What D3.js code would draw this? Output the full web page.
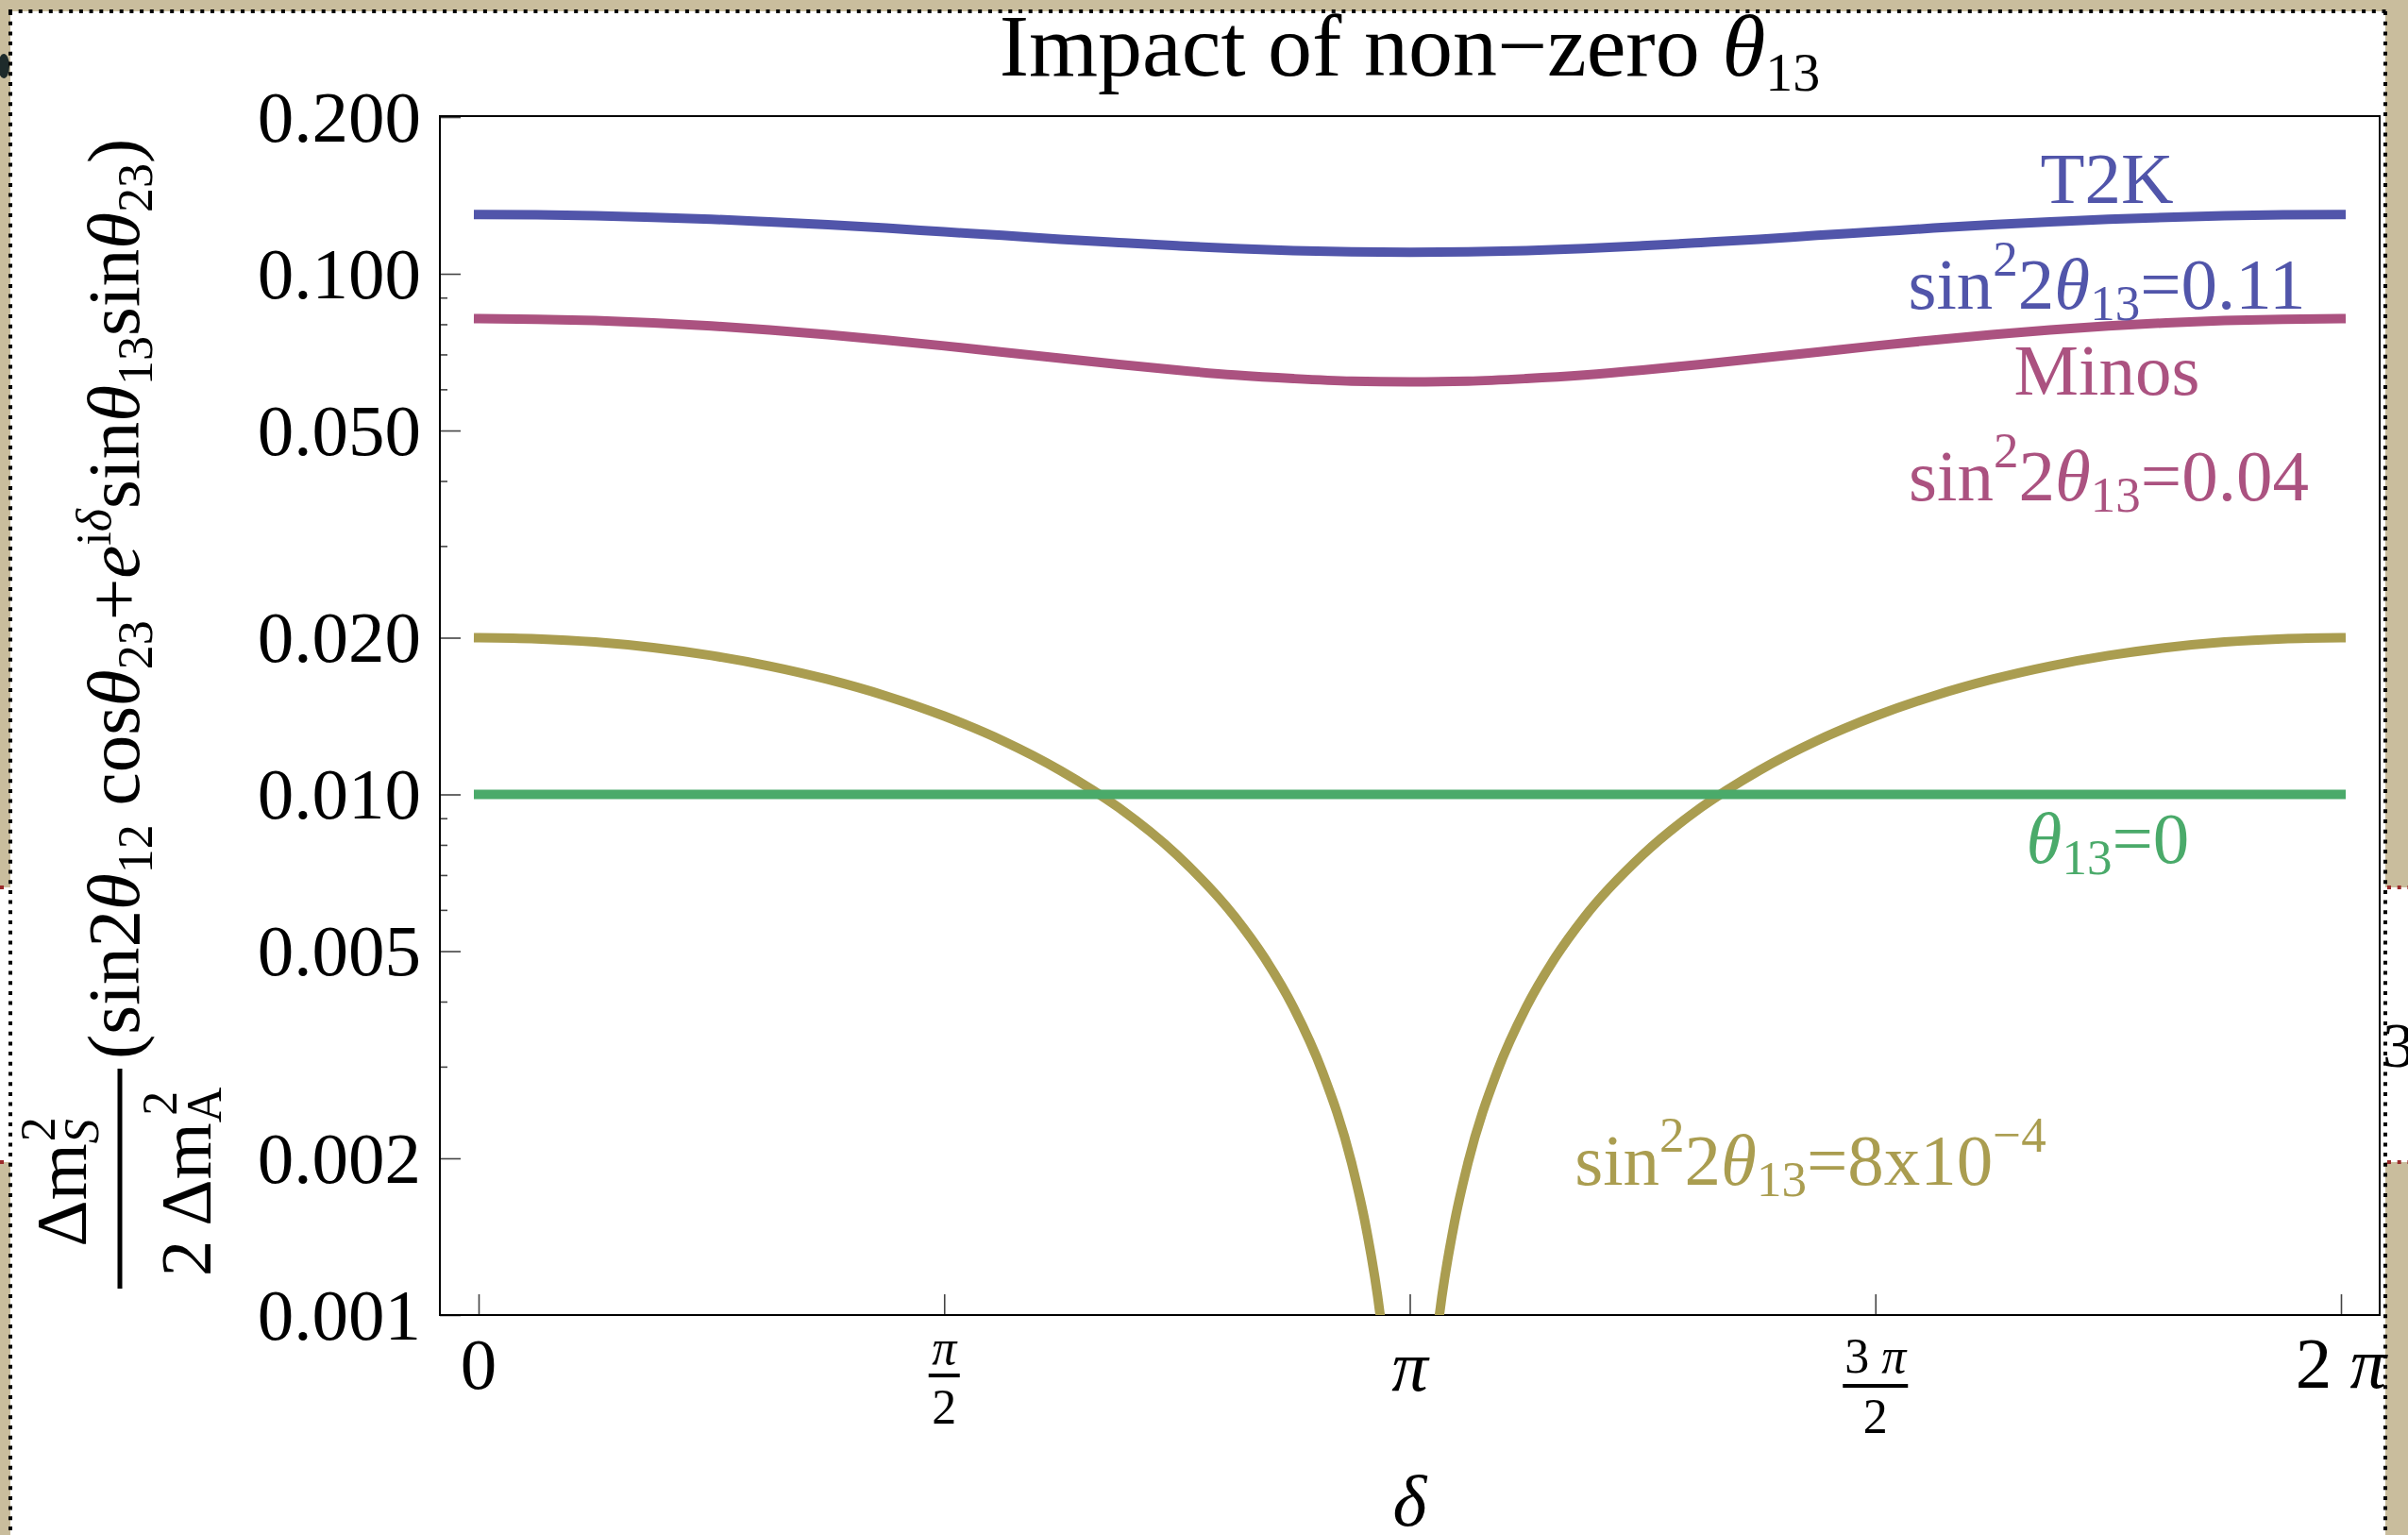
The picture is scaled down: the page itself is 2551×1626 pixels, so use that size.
<!DOCTYPE html>
<html>
<head>
<meta charset="utf-8">
<script src="https://cdn.jsdelivr.net/npm/d3@7"></script>
<style>
  body { margin: 0; background: #fff; }
  svg { display: block; font-family: "Liberation Serif", "Times New Roman", serif; }
  text { white-space: pre; }
</style>
</head>
<body>
<div id="chart"></div>
<script>
// delta in units of pi
const deltaPi = [0, 0.0625, 0.125, 0.1875, 0.25, 0.3125, 0.375, 0.4375, 0.5, 0.5625, 0.625, 0.6875, 0.75,
  0.8125, 0.875, 0.9375, 1, 1.0625, 1.125, 1.1875, 1.25, 1.3125, 1.375, 1.4375, 1.5, 1.5625, 1.625,
  1.6875, 1.75, 1.8125, 1.875, 1.9375, 2]

// T2K, sin^2 2theta13 = 0.11
const t2k = [0.1300, 0.1298, 0.1293, 0.1284, 0.1273, 0.1258, 0.1242, 0.1224, 0.1204, 0.1185, 0.1165,
  0.1148, 0.1132, 0.1118, 0.1108, 0.1102, 0.1100, 0.1102, 0.1108, 0.1118, 0.1132, 0.1148, 0.1165,
  0.1185, 0.1204, 0.1224, 0.1242, 0.1258, 0.1273, 0.1284, 0.1293, 0.1298, 0.1300]

// Minos, sin^2 2theta13 = 0.04
const minos = [0.0820, 0.0818, 0.0813, 0.0805, 0.0794, 0.0780, 0.0764, 0.0746, 0.0727, 0.0707, 0.0688,
  0.0670, 0.0653, 0.0639, 0.0629, 0.0622, 0.0620, 0.0622, 0.0629, 0.0639, 0.0653, 0.0670, 0.0688,
  0.0707, 0.0727, 0.0746, 0.0764, 0.0780, 0.0794, 0.0805, 0.0813, 0.0818, 0.0820]

// theta13 = 0
const zeroDelta = [0, 2]
const zeroTheta = [0.01, 0.01]

// sin^2 2theta13 = 8x10^-4 (dips out of the plot at delta = pi)
const smallDelta = [0, 0.0625, 0.125, 0.1875, 0.25, 0.3125, 0.375, 0.4375, 0.5, 0.5625, 0.625, 0.6875,
  0.75, 0.8125, 0.84375, 0.875, 0.90625, 0.9375, 0.953125, 0.96875, 0.984375, 1, 1.015625, 1.03125,
  1.046875, 1.0625, 1.09375, 1.125, 1.15625, 1.1875, 1.25, 1.3125, 1.375, 1.4375, 1.5, 1.5625, 1.625,
  1.6875, 1.75, 1.8125, 1.875, 1.9375, 2]
const smallTheta = [0.0200, 0.0199, 0.01962, 0.01914, 0.01848, 0.01764, 0.01663, 0.01546, 0.01414,
  0.01269, 0.01111, 0.00943, 0.00765, 0.00581, 0.00486, 0.00390, 0.00293, 0.00196, 0.00147, 0.00098,
  0.00049, null, 0.00049, 0.00098, 0.00147, 0.00196, 0.00293, 0.00390, 0.00486, 0.00581, 0.00765,
  0.00943, 0.01111, 0.01269, 0.01414, 0.01546, 0.01663, 0.01764, 0.01848, 0.01914, 0.01962, 0.0199, 0.0200]

const xTicks = [0, 0.5, 1, 1.5, 2]
const yMajor = [0.001, 0.002, 0.005, 0.01, 0.02, 0.05, 0.1, 0.2]
const yMinor = [0.003, 0.004, 0.006, 0.007, 0.008, 0.009, 0.03, 0.04, 0.06, 0.07, 0.08, 0.09]

const blue = "#5155aa"
const magenta = "#ab5280"
const green = "#4aaa6a"
const gold = "#aa9d50"

const width = 2551
const height = 1626
const frame = { left: 466, right: 2521, top: 123, bottom: 1393 }

const svg = d3.select("#chart").append("svg")
  .attr("width", width)
  .attr("height", height)

// slide background
svg.append("rect").attr("width", width).attr("height", height).attr("fill", "#c9bd9d")
svg.append("ellipse").attr("cx", 4).attr("cy", 70).attr("rx", 6).attr("ry", 13).attr("fill", "#1e2b2b")
svg.append("rect").attr("x", 11).attr("y", 12).attr("width", 2516).attr("height", height).attr("fill", "#fff")
svg.append("rect").attr("x", 0).attr("y", 940).attr("width", 11).attr("height", 291).attr("fill", "#fff")
svg.append("rect").attr("x", 2527).attr("y", 940).attr("width", 24).attr("height", 291).attr("fill", "#fff")
svg.append("text").attr("x", 2524).attr("y", 1130).attr("font-size", 68).text("3")

const dots = [
  [9, 12, 2529, 12, "#000"], [11, 12, 11, height, "#000"], [2527, 12, 2527, height, "#000"],
  [0, 940, 10, 940, "#9b2a2a"], [0, 1231, 10, 1231, "#9b2a2a"],
  [2529, 940, 2551, 940, "#9b2a2a"], [2529, 1231, 2551, 1231, "#9b2a2a"]
]
dots.forEach(d => {
  svg.append("line").attr("x1", d[0]).attr("y1", d[1]).attr("x2", d[2]).attr("y2", d[3])
    .attr("stroke", d[4]).attr("stroke-width", 4).attr("stroke-dasharray", "4 6.7")
})

const x = d3.scaleLinear().domain([0, 2]).range([507, 2480])
const y = d3.scaleLog().domain([0.001, 0.2]).range([frame.bottom, frame.top + 1])

// rich text with italics, sub- and superscripts
function richText(sel, px, py, size, parts, anchor, color) {
  const t = sel.append("text")
    .attr("x", px).attr("y", py)
    .attr("font-size", size)
    .attr("text-anchor", anchor || "start")
    .attr("fill", color || "#000")
  let shift = 0
  parts.forEach(p => {
    const s = p.shift || 0
    const ts = t.append("tspan").attr("dy", s - shift).text(p.t)
    if (p.it) ts.attr("font-style", "italic")
    if (p.size) ts.attr("font-size", p.size)
    if (p.dx) ts.attr("dx", p.dx)
    shift = s
  })
  return t
}

// plot frame
svg.append("clipPath").attr("id", "plotClip").append("rect")
  .attr("x", frame.left).attr("y", frame.top)
  .attr("width", frame.right - frame.left).attr("height", frame.bottom - frame.top)

// axes (ticks point inward)
const yAxis = svg.append("g")
  .attr("transform", `translate(${frame.left},0)`)
  .call(d3.axisLeft(y).tickValues(yMajor).tickSize(-22).tickPadding(20).tickFormat(d3.format(".3f")))
yAxis.select(".domain").remove()
yAxis.selectAll("line").attr("stroke", "#444").attr("stroke-width", 1.6)
yAxis.selectAll("text").attr("font-size", 77).attr("font-family", "Liberation Serif").attr("fill", "#000")
  .attr("dy", "0.33em")

const yMinorAxis = svg.append("g")
  .attr("transform", `translate(${frame.left},0)`)
  .call(d3.axisLeft(y).tickValues(yMinor).tickSize(-8).tickFormat(""))
yMinorAxis.select(".domain").remove()
yMinorAxis.selectAll("line").attr("stroke", "#444").attr("stroke-width", 1.6)

const xAxis = svg.append("g")
  .attr("transform", `translate(0,${frame.bottom})`)
  .call(d3.axisBottom(x).tickValues(xTicks).tickSize(-22).tickFormat(""))
xAxis.select(".domain").remove()
xAxis.selectAll("line").attr("stroke", "#444").attr("stroke-width", 1.6)

svg.append("rect")
  .attr("x", frame.left).attr("y", frame.top)
  .attr("width", frame.right - frame.left).attr("height", frame.bottom - frame.top)
  .attr("fill", "none").attr("stroke", "#000").attr("stroke-width", 2)

// x tick labels: 0, pi/2, pi, 3pi/2, 2pi
const xb = frame.bottom
richText(svg, x(0), xb + 78, 77, [{ t: "0" }], "middle")
richText(svg, x(1), xb + 80, 77, [{ t: "π", it: true }], "middle")
richText(svg, x(2), xb + 77, 77, [{ t: "2 " }, { t: "π", it: true }], "middle")

function fracLabel(v, num, numBase, barY, denBase, barW) {
  richText(svg, x(v), xb + numBase, 52, num, "middle")
  svg.append("line")
    .attr("x1", x(v) - barW / 2).attr("x2", x(v) + barW / 2)
    .attr("y1", xb + barY).attr("y2", xb + barY)
    .attr("stroke", "#000").attr("stroke-width", 4)
  richText(svg, x(v), xb + denBase, 52, [{ t: "2" }], "middle")
}
fracLabel(0.5, [{ t: "π", it: true }], 52, 64, 115, 33)
fracLabel(1.5, [{ t: "3 " }, { t: "π", it: true }], 61, 75, 125, 69)

// axis title
richText(svg, x(1), 1616, 77, [{ t: "δ", it: true }], "middle")

// chart title
richText(svg, (frame.left + frame.right) / 2, 80, 94, [
  { t: "Impact of non−zero " }, { t: "θ", it: true }, { t: "13", size: 58, shift: 16 }
], "middle")

// y axis label, rotated
const yl = svg.append("g").attr("transform", "rotate(-90)")
richText(yl, -1252, 91, 77, [
  { t: "Δm" }, { t: "S", it: true, size: 52, shift: 13 }, { t: "2", size: 52, shift: -33, dx: -24 }
], "middle")
richText(yl, -1252, 223, 77, [
  { t: "2 Δm" }, { t: "A", size: 52, shift: 11 }, { t: "2", size: 52, shift: -36, dx: -30 }
], "middle")
svg.append("line").attr("x1", 127).attr("x2", 127).attr("y1", 1132).attr("y2", 1365)
  .attr("stroke", "#000").attr("stroke-width", 5)
richText(yl, -1122, 147, 79, [
  { t: "(sin2" }, { t: "θ", it: true }, { t: "12", size: 52, shift: 14 },
  { t: " cos" }, { t: "θ", it: true }, { t: "23", size: 52, shift: 14 },
  { t: "+" }, { t: "e", it: true }, { t: "i", size: 52, shift: -30 }, { t: "δ", it: true, size: 52, shift: -30 },
  { t: "sin" }, { t: "θ", it: true }, { t: "13", size: 52, shift: 14 },
  { t: "sin" }, { t: "θ", it: true }, { t: "23", size: 52, shift: 14 },
  { t: ")" }
])

// curves
const plot = svg.append("g").attr("clip-path", "url(#plotClip)")
const line = d3.line()
  .defined(d => d[1] !== null)
  .x(d => x(d[0]))
  .y(d => y(d[1]))
  .curve(d3.curveMonotoneX)

const series = [
  { xs: smallDelta, ys: smallTheta, color: gold },
  { xs: zeroDelta, ys: zeroTheta, color: green },
  { xs: deltaPi, ys: minos, color: magenta },
  { xs: deltaPi, ys: t2k, color: blue }
]
series.forEach(s => {
  plot.append("path")
    .datum(s.xs.map((d, i) => [d, s.ys[i]]))
    .attr("d", line)
    .attr("fill", "none")
    .attr("stroke", s.color)
    .attr("stroke-width", 10)
    .attr("stroke-linecap", "square")
})

// curve labels
richText(svg, 2232, 215, 77, [{ t: "T2K" }], "middle", blue)
richText(svg, 2232, 327, 77, [
  { t: "sin" }, { t: "2", size: 53, shift: -35 }, { t: "2" }, { t: "θ", it: true },
  { t: "13", size: 53, shift: 12 }, { t: "=0.11" }
], "middle", blue)
richText(svg, 2232, 418, 77, [{ t: "Minos" }], "middle", magenta)
richText(svg, 2234, 530, 77, [
  { t: "sin" }, { t: "2", size: 53, shift: -35 }, { t: "2" }, { t: "θ", it: true },
  { t: "13", size: 53, shift: 12 }, { t: "=0.04" }
], "middle", magenta)
richText(svg, 2233, 914, 77, [
  { t: "θ", it: true }, { t: "13", size: 53, shift: 12 }, { t: "=0" }
], "middle", green)
richText(svg, 1918, 1255, 77, [
  { t: "sin" }, { t: "2", size: 53, shift: -35 }, { t: "2" }, { t: "θ", it: true },
  { t: "13", size: 53, shift: 12 }, { t: "=8x10" }, { t: "−4", size: 53, shift: -35 }
], "middle", gold)
</script>
</body>
</html>
